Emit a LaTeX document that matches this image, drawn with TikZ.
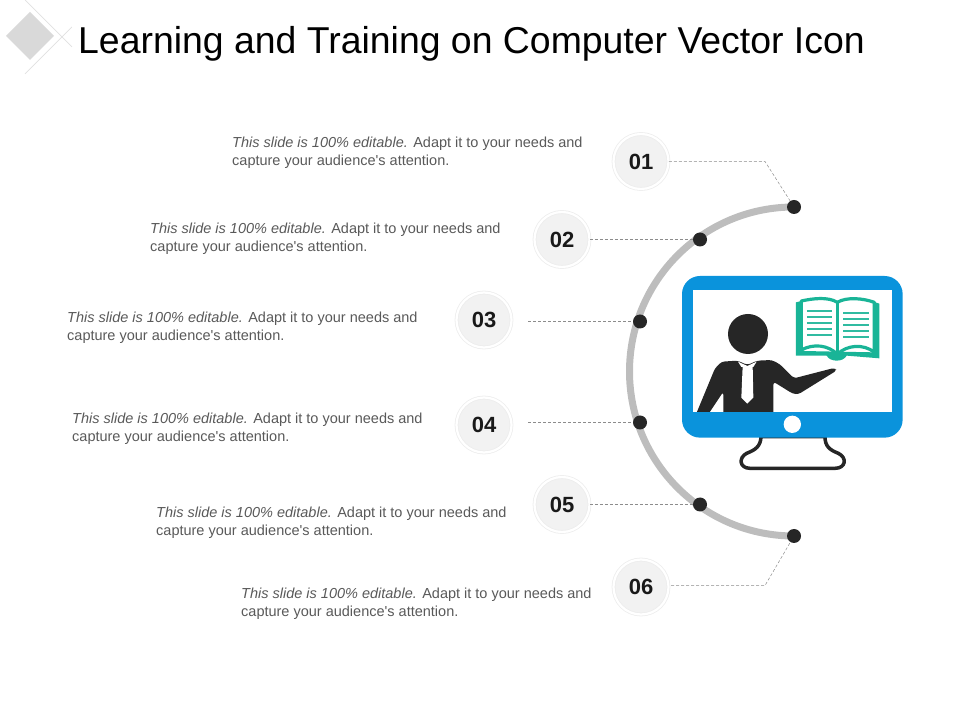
\documentclass[tikz,border=0pt]{standalone}
\usepackage{fontspec}
\setmainfont{Liberation Sans}
\definecolor{screenblue}{HTML}{0A93DC}
\definecolor{bookgreen}{HTML}{19B497}
\definecolor{dotblack}{HTML}{262626}
\tikzset{
	numnode/.style = {circle, draw=black!7, double=white, double distance=2.2pt, line width=0.8pt,
		fill=black!5, minimum size=55pt, inner sep=0pt,
		font=\fontsize{22}{22}\selectfont\bfseries, text=black!90},
	dotnode/.style = {circle, fill=dotblack, minimum size=14pt, inner sep=0pt},
	txtnode/.style = {anchor=west, align=left, inner sep=0pt, text=black!65,
		font=\fontsize{14.5}{18}\selectfont},
	lead/.style = {densely dashed, line width=0.5pt, draw=black!45}
}
\newcommand{\slidetext}{\textit{This slide is 100\% editable.} Adapt it to your needs and\\capture your audience{\fontspec{Liberation Sans}[Ligatures=NoCommon]\char39}s attention.}
\begin{document}
\begin{tikzpicture}[x=1pt,y=1pt]
\useasboundingbox (0,0) rectangle (960,720);
% corner mark
\fill [black!15] (30,708) -- (54,684) -- (30,660) -- (6,684) -- cycle;
\draw [black!12, line width=0.7pt] (25,720) -- (72,673);
\draw [black!12, line width=0.7pt] (72,693) -- (25,646);
\node [anchor=west, inner sep=0pt, font=\fontsize{37.4}{40}\selectfont, text=black] (title) at (78,676.5) {Learning and Training on Computer Vector Icon};
% arc
\draw [line width=7pt, black!26] (794,513) arc [start angle=90, end angle=270, radius=164.5];
% dots
\node [dotnode] (d01) at (794,513) {};
\node [dotnode] (d02) at (700,480.5) {};
\node [dotnode] (d03) at (640,398.5) {};
\node [dotnode] (d04) at (640,297.5) {};
\node [dotnode] (d05) at (700,215.5) {};
\node [dotnode] (d06) at (794,184) {};
% numbers
\node [numnode] (n01) at (641,558.5) {01};
\node [numnode] (n02) at (562,480.5) {02};
\node [numnode] (n03) at (484,400) {03};
\node [numnode] (n04) at (484,295) {04};
\node [numnode] (n05) at (562,215.5) {05};
\node [numnode] (n06) at (641,133) {06};
% bends
\coordinate (b01) at (765,558.5);
\coordinate (s06) at (671,134.5);
\coordinate (b06) at (765,134.5);
\coordinate (s03) at (528,398.5);
\coordinate (s04) at (528,297.5);
\draw [lead] (n01.east) -- (b01) -- (d01);
\draw [lead] (n02.east) -- (d02);
\draw [lead] (s03) -- (d03);
\draw [lead] (s04) -- (d04);
\draw [lead] (n05.east) -- (d05);
\draw [lead] (s06) -- (b06) -- (d06);
% texts
\node [txtnode] (t01) at (232,567) {\slidetext};
\node [txtnode] (t02) at (150,481) {\slidetext};
\node [txtnode] (t03) at (67,392) {\slidetext};
\node [txtnode] (t04) at (72,291) {\slidetext};
\node [txtnode] (t05) at (156,197) {\slidetext};
\node [txtnode] (t06) at (241,116) {\slidetext};
% monitor, drawn in the pixels of the icon
\begin{scope}[shift={(670,455)}, x=0.3333pt, y=-0.3333pt]
\draw [line width=3.5pt, dotblack, line join=round] (273,515) -- (465,515) .. controls (465,545) and (480,555) .. (505,565) .. controls (532,578) and (528,610) .. (495,610) -- (240,610) .. controls (208,610) and (205,578) .. (230,565) .. controls (255,555) and (272,545) .. (273,515) -- cycle;
\fill [screenblue, rounded corners=18pt] (36,33) rectangle (698,518);
\fill [white] (68,75) rectangle (667,440);
% person
\fill [dotblack] (234,207) circle [radius=60];
\fill [dotblack, rounded corners=3pt] (75,455) -- (135,310) -- (155,290) -- (203,287) -- (232,300) -- (262,287) -- (305,285) -- (330,298) -- (372,340) -- (492,309) -- (501,316) -- (385,388) -- (368,386) -- (310,350) -- (310,455) -- (160,455) -- (160,380) -- (110,455) -- cycle;
\fill [white] (204,290) -- (232,303) -- (260,290) -- (250,306) -- (214,306) -- cycle;
\fill [white] (218,304) -- (248,304) -- (250,398) -- (232,416) -- (214,398) -- cycle;
\fill [screenblue] (60,440) rectangle (675,475);
\fill [white] (367,478) circle [radius=26];
% book
\fill [bookgreen] (378,112) -- (378,272) -- (470,272) .. controls (480,292) and (520,292) .. (530,272) -- (628,280) -- (628,116) -- (610,110) -- (610,262) -- (395,258) -- (395,108) -- cycle;
\draw [bookgreen, line width=3.2pt, fill=white, line join=round] (394,108) .. controls (430,100) and (475,95) .. (502,112) .. controls (530,95) and (580,100) .. (613,112) -- (613,262) .. controls (580,235) and (530,240) .. (502,268) .. controls (475,240) and (430,235) .. (394,255) -- cycle;
\draw [bookgreen, line width=3.2pt] (502,112) -- (502,268);
\foreach \ya in {137,155,173,191,209} \draw [bookgreen!90, line width=2pt] (411,\ya) -- (485,\ya);
\foreach \ya in {143,161,179,197,216} \draw [bookgreen!90, line width=2pt] (520,\ya) -- (597,\ya);
\end{scope}
\end{tikzpicture}
\end{document}
